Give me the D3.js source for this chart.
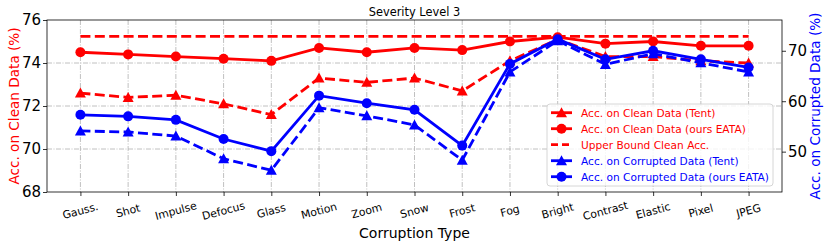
<!DOCTYPE html>
<html>
<head>
<meta charset="utf-8">
<script src="https://cdn.jsdelivr.net/npm/d3@7"></script>
<style>
  html, body { margin: 0; padding: 0; background: #fff; }
  svg { display: block; font-family: "DejaVu Sans", sans-serif; }
</style>
</head>
<body>
<svg id="chart" width="830" height="249"></svg>
<script>
const categories = ["Gauss.", "Shot", "Impulse", "Defocus", "Glass", "Motion", "Zoom", "Snow", "Frost", "Fog", "Bright", "Contrast", "Elastic", "Pixel", "JPEG"];
const cleanTent = [72.6, 72.4, 72.5, 72.1, 71.6, 73.3, 73.1, 73.3, 72.7, 74.1, 75.1, 74.3, 74.3, 74.1, 74.0];
const cleanEATA = [74.5, 74.4, 74.3, 74.2, 74.1, 74.7, 74.5, 74.7, 74.6, 75.0, 75.2, 74.9, 75.0, 74.8, 74.8];
const upperBound = 75.24;
const corruptTent = [54.1, 53.9, 53.1, 48.6, 46.3, 58.7, 57.1, 55.3, 48.3, 65.8, 72.0, 67.3, 69.4, 67.6, 65.8];
const corruptEATA = [57.3, 57.0, 56.3, 52.5, 50.1, 61.1, 59.6, 58.3, 51.2, 67.4, 72.3, 68.3, 70.0, 68.3, 66.7];
const leftTicks = [68, 70, 72, 74, 76];
const rightTicks = [50, 60, 70];
const legendLabels = ["Acc. on Clean Data (Tent)", "Acc. on Clean Data (ours EATA)", "Upper Bound Clean Acc.", "Acc. on Corrupted Data (Tent)", "Acc. on Corrupted Data (ours EATA)"];

const RED = "#ff0000", BLUE = "#0000ff";
const L = 47, R = 782, T = 20, B = 192;
const svg = d3.select("#chart");

const x = d3.scalePoint().domain(categories).range([L, R]).padding(0.7);
const yL = d3.scaleLinear().domain([68, 76]).range([B, T]);
const yR = d3.scaleLinear().domain([42, 76.1]).range([B, T]);

// grid
const grid = svg.append("g").attr("stroke", "#b0b0b0").attr("stroke-width", 0.8)
  .attr("stroke-dasharray", "5,1.5,1,1.5");
grid.selectAll("line.v").data(categories).join("line")
  .attr("x1", d => x(d)).attr("x2", d => x(d)).attr("y1", T).attr("y2", B);
grid.selectAll("line.h").data(leftTicks.filter(t => t > 68 && t < 76)).join("line")
  .attr("x1", L).attr("x2", R).attr("y1", d => yL(d)).attr("y2", d => yL(d));

// axes
const axL = d3.axisLeft(yL).tickValues(leftTicks).tickSize(4).tickPadding(2).tickFormat(d3.format("d"));
const axR = d3.axisRight(yR).tickValues(rightTicks).tickSize(4).tickPadding(2).tickFormat(d3.format("d"));
const axB = d3.axisBottom(x).tickSize(4).tickFormat("");
function styleAxis(g) {
  g.select(".domain").remove();
  g.selectAll(".tick line").attr("stroke", "#000").attr("stroke-width", 0.8);
  g.selectAll(".tick text").attr("fill", "#000").style("font-size", "15px").style("font-family", "DejaVu Sans");
}
svg.append("g").attr("transform", `translate(${L},0)`).call(axL).call(styleAxis);
svg.append("g").attr("transform", `translate(${R},0)`).call(axR).call(styleAxis);
svg.append("g").attr("transform", `translate(0,${B})`).call(axB).call(styleAxis);

// x tick labels rotated
svg.append("g").selectAll("text").data(categories).join("text")
  .attr("x", d => x(d)).attr("y", 211)
  .attr("text-anchor", "middle").attr("dominant-baseline", "central")
  .attr("transform", d => `rotate(-15,${x(d)},211)`)
  .style("font-size", "10.8px").attr("fill", "#000").text(d => d);

// series
const triPath = "M0,-5.5L-5.5,4.5L5.5,4.5Z";
function drawSeries(vals, yScale, color, dashed, marker) {
  const line = d3.line().x((d, i) => x(categories[i])).y(d => yScale(d));
  svg.append("path").datum(vals).attr("d", line)
    .attr("fill", "none").attr("stroke", color).attr("stroke-width", 2.8)
    .attr("stroke-dasharray", dashed ? "10,4.4" : null);
  const g = svg.append("g").attr("fill", color);
  if (marker === "circle") {
    g.selectAll("circle").data(vals).join("circle")
      .attr("cx", (d, i) => x(categories[i])).attr("cy", d => yScale(d)).attr("r", 5);
  } else if (marker === "tri") {
    g.selectAll("path").data(vals).join("path")
      .attr("d", triPath)
      .attr("transform", (d, i) => `translate(${x(categories[i])},${yScale(d)})`);
  }
}
drawSeries(cleanTent, yL, RED, true, "tri");
drawSeries(cleanEATA, yL, RED, false, "circle");
// upper bound
svg.append("line")
  .attr("x1", x(categories[0])).attr("x2", x(categories[categories.length - 1]))
  .attr("y1", yL(upperBound)).attr("y2", yL(upperBound))
  .attr("stroke", RED).attr("stroke-width", 2.8).attr("stroke-dasharray", "10,4.4");
drawSeries(corruptTent, yR, BLUE, true, "tri");
drawSeries(corruptEATA, yR, BLUE, false, "circle");

// frame
svg.append("rect").attr("x", L).attr("y", T).attr("width", R - L).attr("height", B - T)
  .attr("fill", "none").attr("stroke", "#000").attr("stroke-width", 0.8);

// titles
svg.append("text").attr("x", (L + R) / 2).attr("y", 15.8).attr("text-anchor", "middle")
  .style("font-size", "11.4px").attr("fill", "#000").text("Severity Level 3");
svg.append("text").attr("x", (L + R) / 2).attr("y", 238).attr("text-anchor", "middle")
  .style("font-size", "14px").attr("fill", "#000").text("Corruption Type");
svg.append("text").attr("transform", `translate(18.5,${(T + B) / 2}) rotate(-90)`)
  .attr("text-anchor", "middle").style("font-size", "13.6px").attr("fill", RED)
  .text("Acc. on Clean Data (%)");
svg.append("text").attr("transform", `translate(819.5,${(T + B) / 2}) rotate(-90)`)
  .attr("text-anchor", "middle").style("font-size", "13.6px").attr("fill", BLUE)
  .text("Acc. on Corrupted Data (%)");

// legend
const lg = svg.append("g").attr("transform", "translate(547,104)");
lg.append("rect").attr("width", 226).attr("height", 82).attr("rx", 3)
  .attr("fill", "#fff").attr("fill-opacity", 0.8).attr("stroke", "#cccccc").attr("stroke-width", 0.8);
const legendStyles = [
  { c: RED, dash: false, m: "tri" },
  { c: RED, dash: false, m: "circle" },
  { c: RED, dash: true, m: null },
  { c: BLUE, dash: false, m: "tri" },
  { c: BLUE, dash: false, m: "circle" }
];
legendLabels.forEach((lab, i) => {
  const yy = 8.7 + i * 16;
  const s = legendStyles[i];
  lg.append("line").attr("x1", 4).attr("x2", 25).attr("y1", yy).attr("y2", yy)
    .attr("stroke", s.c).attr("stroke-width", 2.8).attr("stroke-dasharray", s.dash ? "7,4" : null);
  if (s.m === "circle") lg.append("circle").attr("cx", 14.5).attr("cy", yy).attr("r", 5).attr("fill", s.c);
  if (s.m === "tri") lg.append("path").attr("d", triPath).attr("transform", `translate(14.5,${yy})`).attr("fill", s.c);
  lg.append("text").attr("x", 34).attr("y", yy).attr("dominant-baseline", "central")
    .style("font-size", "10.6px").attr("fill", s.c).text(lab);
});
</script>
</body>
</html>
